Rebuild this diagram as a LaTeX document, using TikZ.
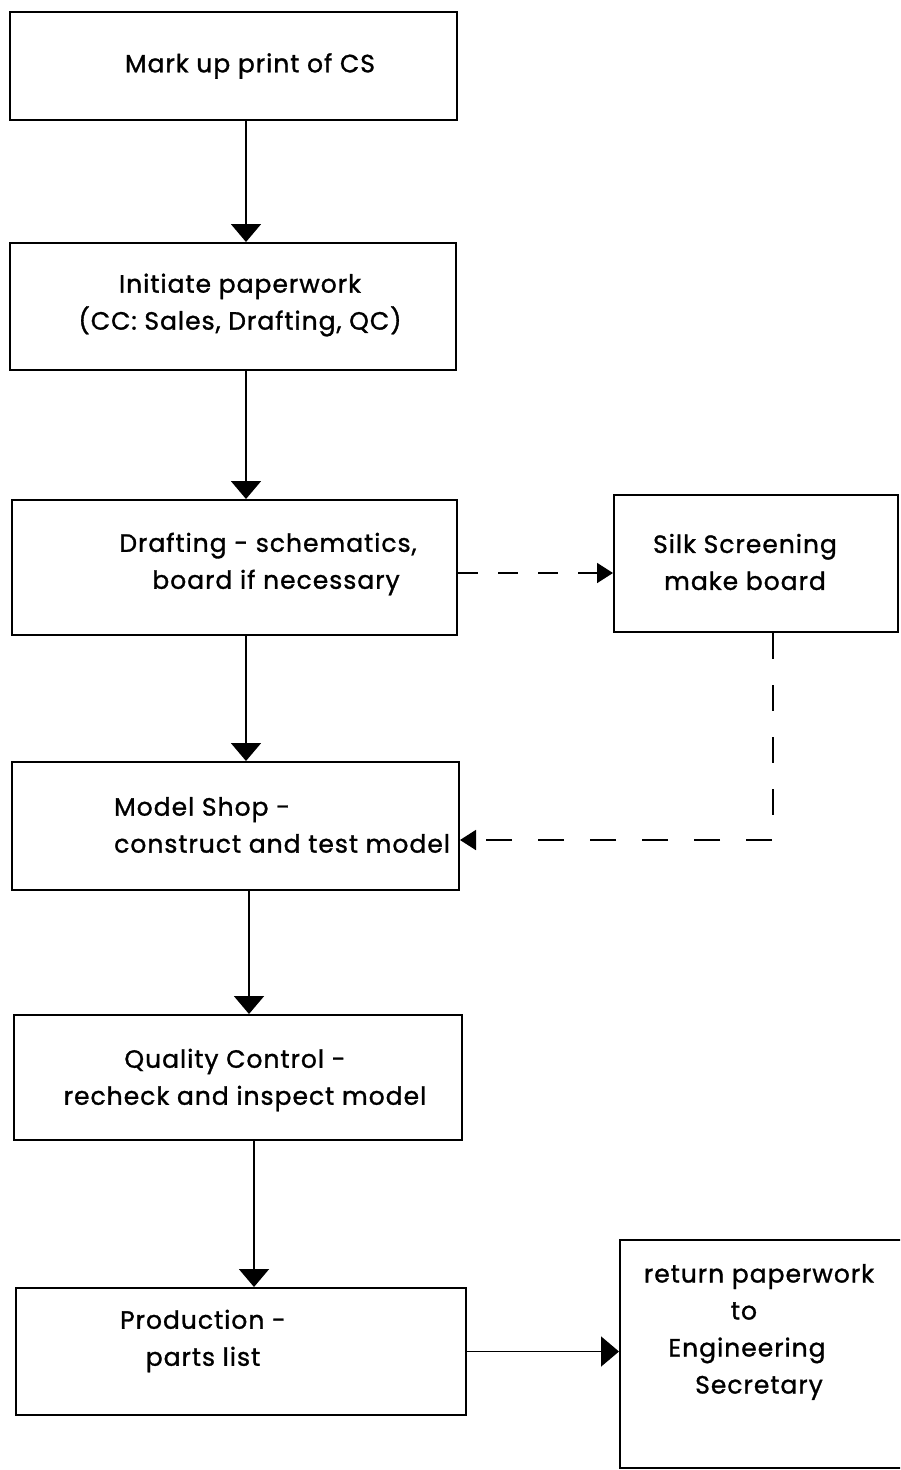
\documentclass[tikz,border=0pt]{standalone}
\usepackage{fontspec}
\setmainfont{Poppins}[LetterSpace=4,FakeBold=1.2]
\usetikzlibrary{arrows.meta}
\begin{document}
\begin{tikzpicture}[x=1pt,y=-1pt,
  box/.style={draw=black,line width=2pt,inner sep=0pt,rectangle},
  lbl/.style={inner sep=0pt,font=\fontsize{25}{37}\selectfont,align=center},
  flow/.style={line width=1.8pt,-{Triangle[width=30pt,length=18pt]}},
  dflow/.style={line width=1.8pt,-{Triangle[width=20pt,length=16pt]}},
]
\useasboundingbox (0,0) rectangle (900,1470);
\clip (0,0) rectangle (900,1470);
\fill[white] (0,0) rectangle (900,1470);
% boxes
\node[box,minimum width=447pt,minimum height=108pt] (b1) at (233.5,66) {};
\node[box,minimum width=446pt,minimum height=127pt] (b2) at (233,306.5) {};
\node[box,minimum width=445pt,minimum height=135pt] (b3) at (234.5,567.5) {};
\node[box,minimum width=284pt,minimum height=137pt] (b4) at (756,563.5) {};
\node[box,minimum width=447pt,minimum height=128pt] (b5) at (235.5,826) {};
\node[box,minimum width=448pt,minimum height=125pt] (b6) at (238,1077.5) {};
\node[box,minimum width=450pt,minimum height=127pt] (b7) at (241,1351.5) {};
\node[box,minimum width=310pt,minimum height=228pt] (b8) at (775,1354) {};
% texts
\node[lbl] (t1) at (250,66) {Mark up print of CS};
\node[lbl] (t2) at (240,305) {Initiate paperwork\\(CC: Sales, Drafting, QC)};
\node[lbl] (t3) at (268,564) {Drafting - schematics,\\\hspace*{16pt}board if necessary};
\node[lbl] (t4) at (745,562) {Silk Screening\\make board};
\node[lbl,align=left,anchor=west] (t5) at (114,825) {Model Shop -\\construct and test model};
\node[lbl] (t6) at (245,1080) {\hspace*{-20pt}Quality Control -\\recheck and inspect model};
\node[lbl] (t7) at (203,1341) {Production -\\parts list};
\node[lbl] (t8) at (759,1332) {return paperwork\\\hspace*{-30pt}to\\\hspace*{-24pt}Engineering\\Secretary};
% solid arrows
\draw[flow] ([xshift=12.5pt]b1.south) -- ([xshift=12.5pt]b1.south |- b2.north);
\draw[flow] ([xshift=13pt]b2.south) -- ([xshift=13pt]b2.south |- b3.north);
\draw[flow] ([xshift=11.5pt]b3.south) -- ([xshift=11.5pt]b3.south |- b5.north);
\draw[flow] ([xshift=13.5pt]b5.south) -- ([xshift=13.5pt]b5.south |- b6.north);
\draw[flow] ([xshift=16pt]b6.south) -- ([xshift=16pt]b6.south |- b7.north);
\draw[flow] (b7.east) -- (b7.east -| b8.west);
% dashed
\coordinate (d1) at ([yshift=-5.5pt]b3.east);
\draw[dflow,dash pattern=on 20pt off 20pt] (d1) -- (d1 -| b4.west);
\coordinate (d2) at ([xshift=17pt]b4.south);
\coordinate (d3) at ([yshift=-14pt]b5.east);
\draw[dflow,dash pattern=on 26pt off 26pt] (d2) |- (d3);
\end{tikzpicture}
\end{document}
